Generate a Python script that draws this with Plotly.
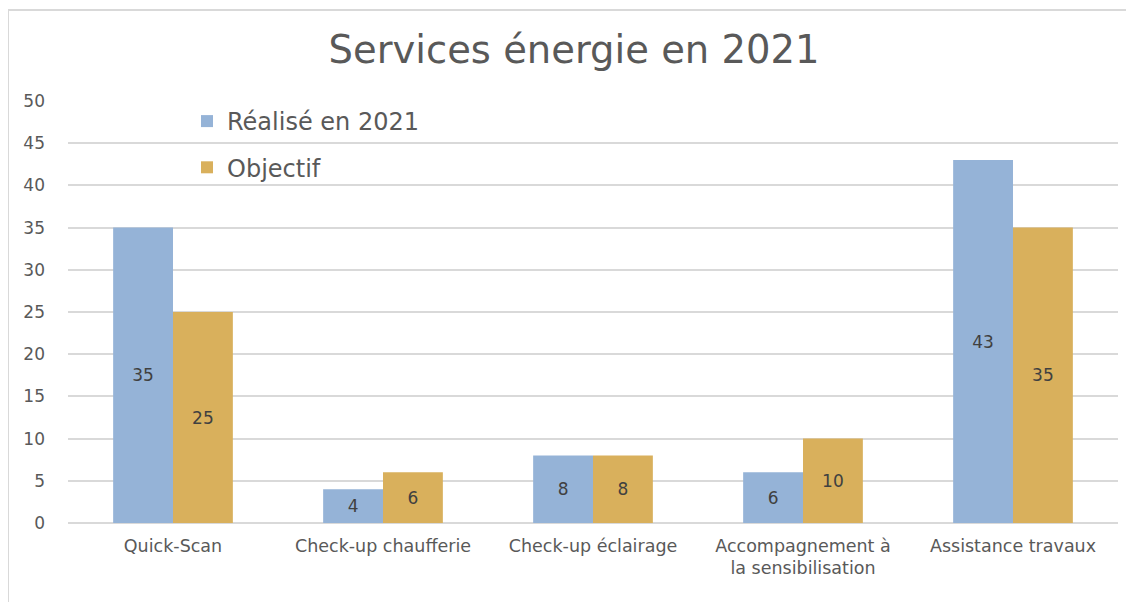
import plotly.graph_objects as go

categories = ["Quick-Scan", "Check-up chaufferie", "Check-up éclairage",
              "Accompagnement à<br>la sensibilisation", "Assistance travaux"]
realise = [35, 4, 8, 6, 43]
objectif = [25, 6, 8, 10, 35]
y_ticks = [0, 5, 10, 15, 20, 25, 30, 35, 40, 45, 50]

FONT = "DejaVu Sans"
TXT = "#595959"

fig = go.Figure()
fig.add_trace(go.Bar(
    x=categories, y=realise, name="Réalisé en 2021", legendgroup="a",
    marker=dict(color="#95B3D7", line=dict(width=0)),
    text=realise, textposition="inside", insidetextanchor="middle",
    textfont=dict(size=17, color="#404040", family=FONT),
))
fig.add_trace(go.Bar(
    x=categories, y=objectif, name="Objectif", legendgroup="b",
    marker=dict(color="#D9B05C", line=dict(width=0)),
    text=objectif, textposition="inside", insidetextanchor="middle",
    textfont=dict(size=17, color="#404040", family=FONT),
))

# figure coordinates (page has an 8px body margin)
W, H = 1126, 594
L, R, T, B = 60, 16, 93, 79
pw, ph = W - L - R, H - T - B

def px_x(x):
    return (x - L) / pw

def px_y(y):
    return (H - B - y) / ph

fig.update_layout(
    width=W, height=H,
    margin=dict(l=L, r=R, t=T, b=B),
    paper_bgcolor="white", plot_bgcolor="white",
    barmode="group", bargap=0.43, bargroupgap=0,
    font=dict(family=FONT, color=TXT, size=17),
    title=dict(text="Services énergie en 2021", x=566 / W, xanchor="center",
               y=1 - 42 / H, yanchor="middle",
               font=dict(size=38.5, color=TXT, family=FONT)),
    legend=dict(x=px_x(179), y=px_y(91), xanchor="left", yanchor="top",
                font=dict(size=24, color=TXT, family=FONT),
                bgcolor="rgba(0,0,0,0)", tracegroupgap=12,
                itemwidth=30, traceorder="grouped"),
    xaxis=dict(showgrid=False, showline=False, ticks="",
               ticklabelstandoff=10,
               tickfont=dict(size=17.5, color=TXT, family=FONT)),
    yaxis=dict(range=[0, 50], tickvals=y_ticks, showgrid=True,
               gridcolor="#D9D9D9", gridwidth=1.5, zeroline=True,
               zerolinecolor="#D9D9D9", zerolinewidth=1.5, showline=False,
               ticklabelstandoff=22,
               tickfont=dict(size=17, color=TXT, family=FONT)),
    shapes=[dict(type="rect", xref="paper", yref="paper",
                 x0=px_x(0), x1=px_x(1140), y0=px_y(610), y1=px_y(2),
                 line=dict(color="#D9D9D9", width=2), layer="below")],
)

fig.write_html("out.html")
